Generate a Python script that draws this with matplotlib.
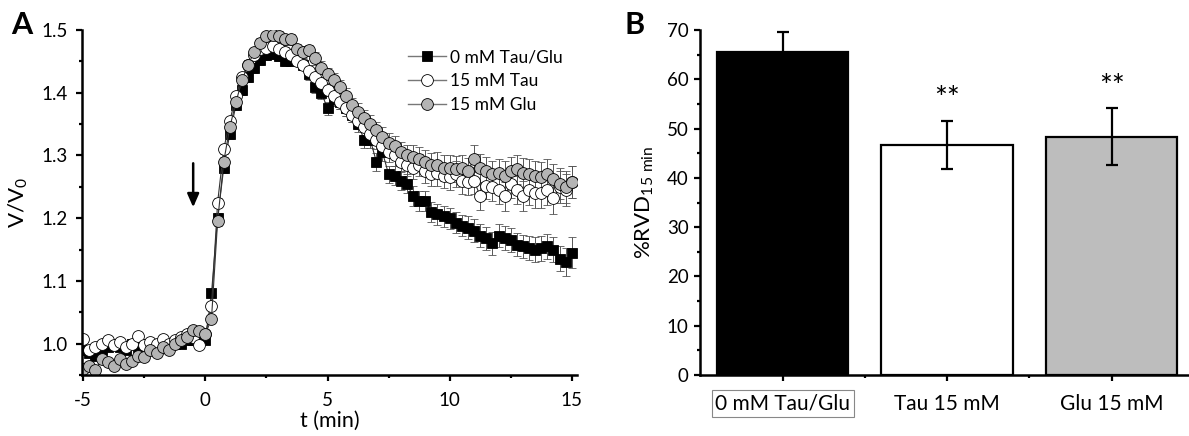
import numpy as np
import matplotlib
matplotlib.use("Agg")
import matplotlib.pyplot as plt
from matplotlib.ticker import MultipleLocator
from matplotlib.lines import Line2D

plt.rcParams['font.family'] = ['Lato', 'DejaVu Sans']
plt.rcParams['mathtext.fontset'] = 'custom'
plt.rcParams['mathtext.rm'] = 'Lato'

# ---- panel A data (V/V0 vs time, 15 s sampling) ----
t_min = np.round(np.arange(-5, 15.01, 0.25), 2)

ctrl_v = [0.990, 0.985, 0.980, 0.990, 0.995, 1.000, 0.995, 0.990, 1.000, 0.995,
          1.000, 0.995, 1.000, 0.995, 1.000, 1.000, 1.000, 1.005, 1.005, 1.005,
          1.005, 1.080, 1.200, 1.280, 1.335, 1.380, 1.405, 1.425, 1.440, 1.452,
          1.460, 1.462, 1.458, 1.450, 1.450, 1.452, 1.445, 1.430, 1.410, 1.400,
          1.375, 1.390, 1.385, 1.375, 1.365, 1.350, 1.325, 1.325, 1.290, 1.305,
          1.270, 1.268, 1.260, 1.255, 1.235, 1.228, 1.228, 1.210, 1.206, 1.203,
          1.200, 1.193, 1.188, 1.185, 1.180, 1.172, 1.168, 1.160, 1.172, 1.168,
          1.165, 1.158, 1.155, 1.152, 1.150, 1.152, 1.155, 1.150, 1.135, 1.130,
          1.145]
ctrl_err = [0.006, 0.006, 0.006, 0.005, 0.005, 0.005, 0.005, 0.005, 0.005, 0.005,
            0.005, 0.005, 0.005, 0.005, 0.005, 0.005, 0.005, 0.005, 0.005, 0.005,
            0.005, 0.006, 0.008, 0.008, 0.008, 0.008, 0.008, 0.008, 0.008, 0.008,
            0.008, 0.008, 0.008, 0.008, 0.008, 0.008, 0.009, 0.009, 0.010, 0.010,
            0.010, 0.011, 0.011, 0.012, 0.012, 0.012, 0.013, 0.013, 0.014, 0.014,
            0.014, 0.015, 0.015, 0.015, 0.016, 0.016, 0.016, 0.016, 0.017, 0.017,
            0.017, 0.017, 0.017, 0.018, 0.018, 0.018, 0.018, 0.018, 0.018, 0.019,
            0.019, 0.019, 0.019, 0.019, 0.020, 0.020, 0.020, 0.020, 0.020, 0.022,
            0.025]

tau_v = [1.008, 0.990, 0.995, 1.000, 1.005, 0.998, 1.002, 0.995, 1.000, 1.012,
         0.998, 1.003, 1.000, 1.008, 1.000, 1.005, 1.010, 1.015, 1.010, 0.998,
         1.015, 1.060, 1.225, 1.310, 1.355, 1.395, 1.425, 1.445, 1.460, 1.470,
         1.472, 1.475, 1.470, 1.465, 1.460, 1.450, 1.445, 1.435, 1.425, 1.415,
         1.405, 1.395, 1.385, 1.375, 1.365, 1.355, 1.345, 1.335, 1.325, 1.315,
         1.305, 1.300, 1.290, 1.285, 1.280, 1.285, 1.275, 1.270, 1.272, 1.268,
         1.265, 1.270, 1.260, 1.258, 1.260, 1.235, 1.252, 1.250, 1.245, 1.235,
         1.255, 1.245, 1.235, 1.245, 1.240, 1.240, 1.245, 1.232, 1.250, 1.245,
         1.258]
tau_err = [0.006, 0.005, 0.005, 0.005, 0.005, 0.005, 0.005, 0.005, 0.005, 0.005,
           0.005, 0.005, 0.005, 0.005, 0.005, 0.005, 0.005, 0.005, 0.005, 0.005,
           0.005, 0.006, 0.007, 0.007, 0.007, 0.007, 0.007, 0.007, 0.007, 0.007,
           0.007, 0.007, 0.008, 0.008, 0.008, 0.008, 0.009, 0.009, 0.010, 0.010,
           0.010, 0.011, 0.011, 0.012, 0.012, 0.013, 0.013, 0.014, 0.014, 0.015,
           0.016, 0.016, 0.017, 0.017, 0.018, 0.018, 0.019, 0.019, 0.020, 0.020,
           0.020, 0.021, 0.021, 0.021, 0.022, 0.022, 0.022, 0.022, 0.023, 0.023,
           0.023, 0.023, 0.024, 0.024, 0.024, 0.024, 0.024, 0.025, 0.025, 0.025,
           0.025]

glu_v = [0.960, 0.965, 0.958, 0.975, 0.970, 0.965, 0.975, 0.968, 0.972, 0.980,
         0.978, 0.990, 0.985, 0.995, 0.990, 1.000, 1.005, 1.010, 1.022, 1.020,
         1.015, 1.040, 1.195, 1.290, 1.345, 1.385, 1.420, 1.445, 1.465, 1.480,
         1.490, 1.492, 1.490, 1.485, 1.485, 1.470, 1.465, 1.468, 1.455, 1.440,
         1.430, 1.420, 1.410, 1.395, 1.380, 1.370, 1.360, 1.350, 1.340, 1.330,
         1.320, 1.315, 1.305, 1.300, 1.298, 1.295, 1.290, 1.285, 1.285, 1.280,
         1.280, 1.278, 1.280, 1.275, 1.295, 1.280, 1.275, 1.270, 1.272, 1.268,
         1.275, 1.278, 1.272, 1.270, 1.268, 1.265, 1.270, 1.262, 1.255, 1.250,
         1.258]
glu_err = [0.006, 0.006, 0.006, 0.005, 0.005, 0.005, 0.005, 0.005, 0.005, 0.005,
           0.005, 0.005, 0.005, 0.005, 0.005, 0.005, 0.005, 0.005, 0.005, 0.005,
           0.005, 0.006, 0.007, 0.007, 0.007, 0.007, 0.007, 0.007, 0.007, 0.007,
           0.007, 0.007, 0.008, 0.008, 0.008, 0.008, 0.009, 0.009, 0.010, 0.010,
           0.010, 0.011, 0.011, 0.012, 0.012, 0.013, 0.013, 0.014, 0.014, 0.015,
           0.016, 0.016, 0.017, 0.017, 0.018, 0.018, 0.019, 0.019, 0.020, 0.020,
           0.020, 0.021, 0.021, 0.021, 0.022, 0.022, 0.022, 0.022, 0.023, 0.023,
           0.023, 0.023, 0.024, 0.024, 0.024, 0.024, 0.024, 0.025, 0.025, 0.025,
           0.025]

# ---- panel B data ----
groups = ["0 mM Tau/Glu", "Tau 15 mM", "Glu 15 mM"]
rvd = [65.6, 46.7, 48.4]
rvd_err = [4.1, 4.9, 5.7]
sig = ["", "**", "**"]
bar_colors = ["black", "white", "#bdbdbd"]

fig = plt.figure(figsize=(11.89, 4.36), dpi=100)
axA = fig.add_axes([0.069, 0.14, 0.416, 0.791])
axB = fig.add_axes([0.589, 0.14, 0.411, 0.791])

series = [
    (ctrl_v, ctrl_err, "s", "black", 7.5, "0 mM Tau/Glu"),
    (tau_v, tau_err, "o", "white", 8.5, "15 mM Tau"),
    (glu_v, glu_err, "o", "#b4b4b4", 8.5, "15 mM Glu"),
]
handles = []
for vals, err, mk, fc, ms, lab in series:
    axA.errorbar(t_min, vals, yerr=err, fmt="-", color="#333333", lw=0.8,
                 marker=mk, markersize=ms, markerfacecolor=fc,
                 markeredgecolor="black", markeredgewidth=0.6,
                 ecolor="#555555", elinewidth=0.7, capsize=3,
                 capthick=0.7)
    handles.append(Line2D([], [], color="#777777", lw=1.0, marker=mk,
                          markersize=ms, markerfacecolor=fc,
                          markeredgecolor="black", markeredgewidth=0.6,
                          label=lab))

axA.set_xlim(-5.05, 15.2)
axA.set_ylim(0.95, 1.5)
axA.set_xticks([-5, 0, 5, 10, 15])
axA.set_xticklabels(["-5", "0", "5", "10", "15"])
axA.xaxis.set_minor_locator(MultipleLocator(2.5))
axA.set_yticks([1.0, 1.1, 1.2, 1.3, 1.4, 1.5])
axA.set_yticklabels(["1.0", "1.1", "1.2", "1.3", "1.4", "1.5"])
axA.yaxis.set_minor_locator(MultipleLocator(0.05))
axA.set_xlabel("t (min)", fontsize=15.5, labelpad=1)
axA.set_ylabel("V/V$_\\mathregular{0}$", fontsize=16, labelpad=8)

axA.legend(handles=handles, loc="upper right", bbox_to_anchor=(0.99, 0.97),
           frameon=False, fontsize=12.5, handlelength=2.2, handletextpad=0.25,
           labelspacing=0.45, borderaxespad=0.1)

axA.annotate("", xy=(-0.5, 1.213), xytext=(-0.5, 1.292),
             arrowprops=dict(arrowstyle="-|>,head_width=0.35,head_length=0.8",
                             color="black", lw=1.8))

# ---- panel B ----
xb = np.arange(len(groups))
axB.bar(xb, rvd, width=0.8, color=bar_colors, edgecolor="black", linewidth=1.6,
        yerr=rvd_err, error_kw=dict(ecolor="black", elinewidth=1.6, capsize=4.5,
                                    capthick=1.6))
for i in range(len(groups)):
    if sig[i]:
        axB.text(xb[i], rvd[i] + rvd_err[i] + 1.5, sig[i], ha="center",
                 va="bottom", fontsize=22)

axB.set_xlim(-0.5, 2.47)
axB.set_ylim(0, 70)
axB.set_xticks(xb)
axB.set_xticklabels(groups)
axB.set_xticks([0.5, 1.5], minor=True)
axB.yaxis.set_major_locator(MultipleLocator(10))
axB.yaxis.set_minor_locator(MultipleLocator(5))
axB.set_ylabel("%RVD$_\\mathregular{15\\ min}$", fontsize=16, labelpad=8)

for ax in (axA, axB):
    for side in ("top", "right"):
        ax.spines[side].set_visible(False)
    for side in ("left", "bottom"):
        ax.spines[side].set_linewidth(1.8)
    ax.tick_params(which="major", direction="out", length=4.5, width=1.6,
                   labelsize=13.5)
    ax.tick_params(which="minor", direction="out", length=2.5, width=1.6)
axA.tick_params(axis="y", which="major", pad=6)
axA.tick_params(axis="x", which="major", pad=8)
axB.tick_params(axis="y", which="major", pad=4)
axB.tick_params(axis="x", which="major", pad=9, labelsize=15)

lbl0 = axB.get_xticklabels()[0]
lbl0.set_bbox(dict(facecolor="none", edgecolor="#888888", linewidth=0.8,
                   pad=2.5))

fig.text(0.009, 0.975, "A", fontsize=22, fontweight="bold", va="top")
fig.text(0.525, 0.975, "B", fontsize=22, fontweight="bold", va="top")

fig.savefig("out.png", dpi=100)
